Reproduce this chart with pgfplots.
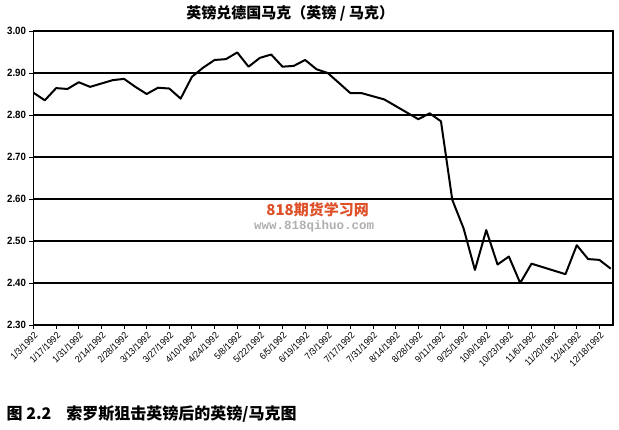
\documentclass[border=0pt]{standalone}
\usepackage{fontspec}
\setmainfont{Liberation Sans}
\newfontfamily\cjk{Noto Sans CJK SC}
\newfontfamily\narrowsans{Liberation Sans}[FakeStretch=0.92]
\newfontfamily\wmono{Liberation Mono}
\usepackage{pgfplots}
\pgfplotsset{compat=1.18}
\usepackage{pgfplotstable}

\definecolor{wmorange}{RGB}{222,80,40}
\definecolor{wmgrey}{RGB}{175,175,175}

% week index (0 = 1/3/1992), GBP/DEM rate
\pgfplotstableread{
wk rate
0  2.853
1  2.835
2  2.864
3  2.862
4  2.878
5  2.867
6  2.875
7  2.883
8  2.886
9  2.867
10 2.850
11 2.865
12 2.863
13 2.839
14 2.891
15 2.913
16 2.931
17 2.933
18 2.949
19 2.915
20 2.936
21 2.944
22 2.915
23 2.917
24 2.931
25 2.909
26 2.900
28 2.852
29 2.852
31 2.837
34 2.790
35 2.804
36 2.785
37 2.598
38 2.530
39 2.431
40 2.526
41 2.444
42 2.463
43 2.400
44 2.446
47 2.421
48 2.490
49 2.457
50 2.455
51 2.434
}\gbpdem

\begin{document}
\begin{tikzpicture}
\begin{axis}[
    scale only axis,
    width=579.5pt, height=294pt,
    xmin=0, xmax=51.2,
    ymin=2.3, ymax=3.0,
    ytick={2.3,2.4,2.5,2.6,2.7,2.8,2.9,3.0},
    xtick={0,2,...,50},
    xticklabels={1/3/1992,1/17/1992,1/31/1992,2/14/1992,2/28/1992,3/13/1992,
        3/27/1992,4/10/1992,4/24/1992,5/8/1992,5/22/1992,6/5/1992,6/19/1992,
        7/3/1992,7/17/1992,7/31/1992,8/14/1992,8/28/1992,9/11/1992,9/25/1992,
        10/9/1992,10/23/1992,11/6/1992,11/20/1992,12/4/1992,12/18/1992},
    xtick pos=bottom, ytick pos=left,
    tick align=outside,
    major tick length=4pt,
    tick style={black, line width=1pt},
    axis line style={black, line width=1.5pt},
    ymajorgrids,
    major grid style={black, line width=1.3pt},
    yticklabel style={
        /pgf/number format/.cd, fixed, fixed zerofill, precision=2,
        assume math mode=true,
        /tikz/.cd, font=\narrowsans\bfseries\fontsize{10.5}{12}\selectfont},
    xticklabel style={rotate=45, anchor=north east, inner sep=1.5pt,
        font=\narrowsans\fontsize{9.5}{11}\selectfont},
    clip=false,
]
\addplot[black, line width=2pt, line join=round] table[x=wk, y=rate] {\gbpdem};

% watermark
\node[font=\cjk\bfseries\fontsize{15}{17}\selectfont, text=wmorange]
    at (axis cs:25.1,2.574) {818期货学习网};
\node[font=\wmono\bfseries\fontsize{12.5}{14}\selectfont, text=wmgrey]
    at (axis cs:24.8,2.536) {www.818qihuo.com};

% title and caption
\node[font=\cjk\bfseries\fontsize{15}{17}\selectfont]
    at ([yshift=18pt]rel axis cs:0.443,1) {英镑兑德国马克（英镑 / 马克）};
\node[anchor=west, font=\cjk\bfseries\fontsize{16}{18}\selectfont, inner sep=0pt]
    at ([xshift=-27pt,yshift=-89pt]rel axis cs:0,0) {图 2.2\hspace{15pt}索罗斯狙击英镑后的英镑/马克图};
\end{axis}
\path ([shift={(-33.5pt,-104pt)}]current axis.south west)
    rectangle ([shift={(6pt,31pt)}]current axis.north east);
\end{tikzpicture}
\end{document}
